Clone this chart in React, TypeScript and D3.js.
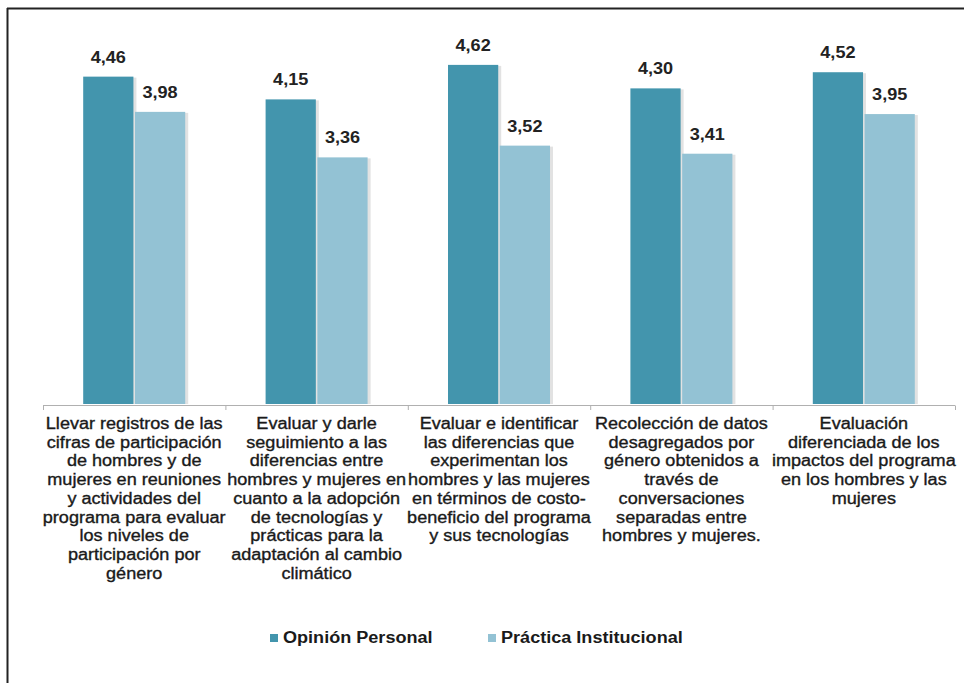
import React from "react";
import * as d3 from "d3";

const categories: string[][] = [
  ["Llevar registros de las", "cifras de participación", "de hombres y de", "mujeres en reuniones", "y actividades del", "programa para evaluar", "los niveles de", "participación por", "género"],
  ["Evaluar y darle", "seguimiento a las", "diferencias entre", "hombres y mujeres en", "cuanto a la adopción", "de tecnologías y", "prácticas para la", "adaptación al cambio", "climático"],
  ["Evaluar e identificar", "las diferencias que", "experimentan los", "hombres y las mujeres", "en términos de costo-", "beneficio del programa", "y sus tecnologías"],
  ["Recolección de datos", "desagregados por", "género obtenidos a", "través de", "conversaciones", "separadas entre", "hombres y mujeres."],
  ["Evaluación", "diferenciada de los", "impactos del programa", "en los hombres y las", "mujeres"],
];
const seriesNames = ["Opinión Personal", "Práctica Institucional"];
const opinionPersonal = [4.46, 4.15, 4.62, 4.30, 4.52];
const practicaInstitucional = [3.98, 3.36, 3.52, 3.41, 3.95];
const colors = ["#4395ad", "#93c2d4"];

const W = 964;
const H = 683;
const SX = 1.13;
const FONT = "'Liberation Sans', Arial, sans-serif";

export default function App() {
  const ids = categories.map((_, i) => String(i));
  const x = d3.scaleBand<string>().domain(ids).range([43, 955]).paddingInner(0).paddingOuter(0);
  const groupW = 102;
  const xi = d3.scaleBand<string>().domain(seriesNames).range([0, groupW]).paddingInner(0.03);
  const y = d3.scaleLinear().domain([0, 5]).range([404, 37]);
  const series = [opinionPersonal, practicaInstitucional];
  const fmt = (v: number) => d3.format(".2f")(v).replace(".", ",");
  const off = (x.bandwidth() - groupW) / 2;

  return (
    <svg width={W} height={H} style={{ position: "absolute", left: 0, top: 0, background: "#fff" }} fontFamily={FONT}>
      <rect x={0} y={0} width={W} height={H} fill="#fff" />
      {/* frame */}
      <line x1={7.5} x2={7.5} y1={8} y2={H} stroke="#222" strokeWidth={2} />
      <line x1={7} x2={W} y1={8.5} y2={8.5} stroke="#222" strokeWidth={2} />
      {/* bars */}
      {ids.map((id, ci) => (
        <g key={id}>
          {series.map((vals, si) => {
            const bx = (x(id) as number) + off + (xi(seriesNames[si]) as number);
            const bw = xi.bandwidth();
            const top = y(vals[ci]);
            return (
              <g key={si}>
                <rect x={bx + 1} y={top + 1} width={bw + 2} height={y(0) - top - 1} fill="#e2e2e2" />
                <rect x={bx} y={top} width={bw} height={y(0) - top} fill={colors[si]} />
                <text
                  transform={`translate(${bx + bw / 2},${top - 14}) scale(${SX},1)`}
                  textAnchor="middle"
                  fontSize={16}
                  fontWeight="bold"
                  fill="#222"
                >
                  {fmt(vals[ci])}
                </text>
              </g>
            );
          })}
        </g>
      ))}
      {/* axis */}
      <line x1={43} x2={955} y1={405.5} y2={405.5} stroke="#b0b0b0" strokeWidth={1} />
      {d3.range(categories.length + 1).map((i) => {
        const xx = i < categories.length ? (x(ids[i]) as number) : 955;
        return <line key={i} x1={xx + 0.5} x2={xx + 0.5} y1={405.5} y2={410} stroke="#b0b0b0" strokeWidth={1} />;
      })}
      {/* category labels */}
      {ids.map((id, ci) => {
        const cx = (x(id) as number) + x.bandwidth() / 2;
        return (
          <g key={id}>
            {categories[ci].map((line, li) => (
              <text
                key={li}
                transform={`translate(${cx},${429 + li * 18.7}) scale(${SX},1)`}
                textAnchor="middle"
                fontSize={16}
                fill="#1a1a1a"
                stroke="#1a1a1a"
                strokeWidth={0.35}
              >
                {line}
              </text>
            ))}
          </g>
        );
      })}
      {/* legend */}
      {seriesNames.map((name, si) => {
        const lx = si === 0 ? 270 : 488;
        return (
          <g key={name}>
            <rect x={lx} y={634} width={8} height={8} fill={colors[si]} />
            <text
              transform={`translate(${lx + 13},${643}) scale(${SX},1)`}
              fontSize={16}
              fontWeight="bold"
              fill="#1a1a1a"
            >
              {name}
            </text>
          </g>
        );
      })}
    </svg>
  );
}
